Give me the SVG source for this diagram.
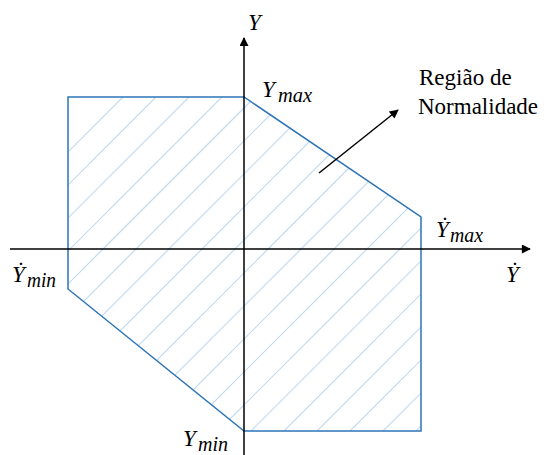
<svg xmlns="http://www.w3.org/2000/svg" width="544" height="455" viewBox="0 0 544 455">
<style>
.ax{stroke:#000;stroke-width:1.5;fill:none}
.reg{fill:none;stroke:#2E75B6;stroke-width:1.5}
.hat{stroke:#C2DAF0;stroke-width:1.2}
.m{font-family:"Liberation Serif","DejaVu Serif",serif;font-style:italic;fill:#000}
.t{font-family:"Liberation Serif","DejaVu Serif",serif;fill:#000;font-size:23px}
</style>
<defs>
<marker id="ah" viewBox="0 0 10 10" refX="9" refY="5" markerWidth="10" markerHeight="9" markerUnits="userSpaceOnUse" orient="auto">
<path d="M0,0 L10,5 L0,10 Z" fill="#000"/>
</marker>
<clipPath id="cp"><polygon points="68,97 244,97 421,217 421,431 244,431 68,289"/></clipPath>
</defs>
<g id="region">
<g clip-path="url(#cp)" class="hat">
<line x1="220" y1="0" x2="0" y2="220"/>
<line x1="253" y1="0" x2="0" y2="253"/>
<line x1="286" y1="0" x2="0" y2="286"/>
<line x1="319" y1="0" x2="0" y2="319"/>
<line x1="352" y1="0" x2="0" y2="352"/>
<line x1="385" y1="0" x2="0" y2="385"/>
<line x1="418" y1="0" x2="0" y2="418"/>
<line x1="451" y1="0" x2="0" y2="451"/>
<line x1="484" y1="0" x2="0" y2="484"/>
<line x1="517" y1="0" x2="0" y2="517"/>
<line x1="550" y1="0" x2="0" y2="550"/>
<line x1="583" y1="0" x2="0" y2="583"/>
<line x1="616" y1="0" x2="0" y2="616"/>
<line x1="649" y1="0" x2="0" y2="649"/>
<line x1="682" y1="0" x2="0" y2="682"/>
<line x1="715" y1="0" x2="0" y2="715"/>
<line x1="748" y1="0" x2="0" y2="748"/>
<line x1="781" y1="0" x2="0" y2="781"/>
<line x1="814" y1="0" x2="0" y2="814"/>
<line x1="847" y1="0" x2="0" y2="847"/>
</g>
<polygon class="reg" points="68,97 244,97 421,217 421,431 244,431 68,289"/>
</g>
<g id="connectors">
<line id="x-axis" class="ax" x1="10" y1="249" x2="530" y2="249" marker-end="url(#ah)"/>
<line id="y-axis" class="ax" x1="244" y1="455" x2="244" y2="38" marker-end="url(#ah)"/>
<line id="pointer" class="ax" x1="319" y1="173" x2="398" y2="110" marker-end="url(#ah)"/>
</g>
<g id="labels">
<text class="m" x="248" y="30" font-size="23">Y</text>
<text class="m" x="506" y="282" font-size="23">Ẏ</text>
<g id="ymax"><text class="m" x="262" y="97" font-size="23">Y</text><text class="m" x="278" y="102" font-size="20" textLength="34" lengthAdjust="spacingAndGlyphs">max</text></g>
<g id="ydotmax"><text class="m" x="436" y="237" font-size="23">Ẏ</text><text class="m" x="450" y="242" font-size="20" textLength="33" lengthAdjust="spacingAndGlyphs">max</text></g>
<g id="ydotmin"><text class="m" x="12" y="282" font-size="23">Ẏ</text><text class="m" x="27" y="287" font-size="20" textLength="29" lengthAdjust="spacingAndGlyphs">min</text></g>
<g id="ymin"><text class="m" x="183" y="446" font-size="23">Y</text><text class="m" x="198" y="451" font-size="20" textLength="30" lengthAdjust="spacingAndGlyphs">min</text></g>
<g id="note"><text class="t" x="419" y="85">Região de</text><text class="t" x="418" y="114">Normalidade</text></g>
</g>
</svg>
